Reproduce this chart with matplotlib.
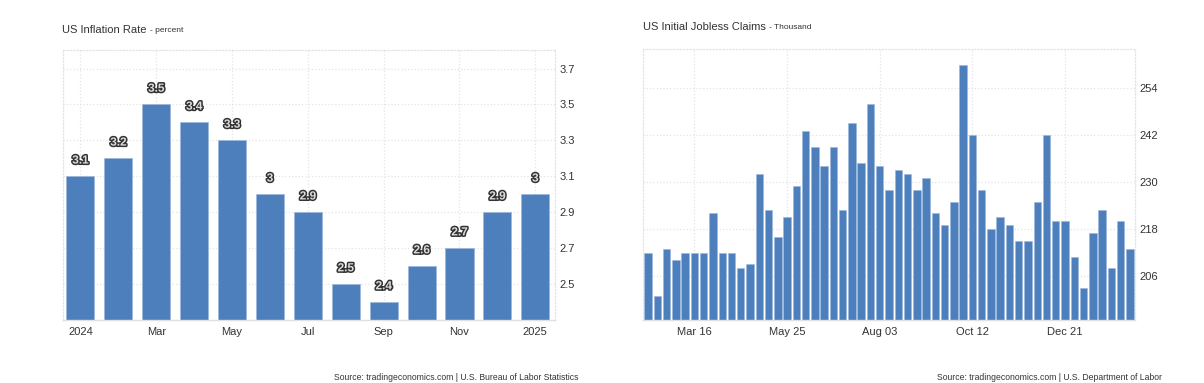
import matplotlib
matplotlib.use("Agg")
import matplotlib.pyplot as plt
import matplotlib.patheffects as pe

plt.rcParams['font.family'] = ['Liberation Sans', 'DejaVu Sans']

# Inflation data (monthly, Jan 2024 - Jan 2025)
infl_values = [3.1, 3.2, 3.5, 3.4, 3.3, 3.0, 2.9, 2.5, 2.4, 2.6, 2.7, 2.9, 3.0]
infl_ticks = [0, 2, 4, 6, 8, 10, 12]
infl_tick_labels = ['2024', 'Mar', 'May', 'Jul', 'Sep', 'Nov', '2025']
infl_yticks = [2.5, 2.7, 2.9, 3.1, 3.3, 3.5, 3.7]

# Weekly jobless claims (week ending Feb 10 2024 - Feb 8 2025), thousand
claims_values = [212, 201, 213, 210, 212, 212, 212, 222, 212, 212, 208, 209,
                 232, 223, 216, 221, 229, 243, 239, 234, 239, 223, 245, 235,
                 250, 234, 228, 233, 232, 228, 231, 222, 219, 225, 260, 242,
                 228, 218, 221, 219, 215, 215, 225, 242, 220, 220, 211, 203,
                 217, 223, 208, 220, 213]
claims_ticks = [5, 15, 25, 35, 45]
claims_tick_labels = ['Mar 16', 'May 25', 'Aug 03', 'Oct 12', 'Dec 21']
claims_yticks = [206, 218, 230, 242, 254]

W, H = 1204, 383
BAR = '#4d7fbc'
GRID = '#e4e4e4'
TXT = '#333333'

fig = plt.figure(figsize=(W / 100, H / 100), dpi=100)


def make_axes(left, right, top, bottom):
    return fig.add_axes([left / W, (H - bottom) / H, (right - left) / W, (bottom - top) / H])


def style(ax):
    ax.yaxis.tick_right()
    ax.tick_params(axis='both', length=0, labelsize=8, colors=TXT)
    ax.tick_params(axis='x', pad=5)
    ax.tick_params(axis='y', pad=3)
    ax.grid(True, color=GRID, linestyle=':', linewidth=0.9)
    ax.set_axisbelow(True)
    for s in ['left', 'top', 'right']:
        ax.spines[s].set_color(GRID)
        ax.spines[s].set_linestyle(':')
        ax.spines[s].set_linewidth(0.9)
    ax.spines['bottom'].set_color('#e0e0e0')
    ax.spines['bottom'].set_linewidth(1.0)


def title(x, y, main, sub):
    t = fig.text(x / W, 1 - y / H, main, fontsize=8, color=TXT, va='center')
    r = fig.canvas.get_renderer()
    x1 = t.get_window_extent(renderer=r).x1
    fig.text((x1 + 3) / W, 1 - (y + 0.5) / H, sub, fontsize=6, color=TXT, va='center')


# Left: inflation
ax1 = make_axes(63, 555, 50, 320)
x1 = range(len(infl_values))
ax1.bar(x1, infl_values, width=0.74, color=BAR, edgecolor='#9db8dd', linewidth=0.5)
ax1.set_xlim(-0.46, 12.52)
ax1.set_ylim(2.3, 3.803)
ax1.set_xticks(infl_ticks)
ax1.set_xticklabels(infl_tick_labels)
ax1.set_yticks(infl_yticks)
ax1.set_yticklabels([f'{v:.1f}' for v in infl_yticks])
style(ax1)
for i, v in zip(x1, infl_values):
    ax1.annotate(f'{v:g}', (i, v), xytext=(0, 7), textcoords='offset points',
                 ha='center', va='bottom', fontsize=8.5, fontweight='bold',
                 color='#dddddd',
                 path_effects=[pe.withStroke(linewidth=2.2, foreground='#333333')])

# Right: jobless claims
ax2 = make_axes(643, 1135, 49, 320)
x2 = range(len(claims_values))
ax2.bar(x2, claims_values, width=0.8, color=BAR, edgecolor='#9db8dd', linewidth=0.4)
ax2.set_xlim(-0.55, 52.55)
ax2.set_ylim(194.8, 264)
ax2.set_xticks(claims_ticks)
ax2.set_xticklabels(claims_tick_labels)
ax2.set_yticks(claims_yticks)
style(ax2)

# Titles
title(62, 30, 'US Inflation Rate', '- percent')
title(643, 27, 'US Initial Jobless Claims', '- Thousand')

# Sources
fig.text(578 / W, 1 - 378 / H, 'Source: tradingeconomics.com | U.S. Bureau of Labor Statistics',
         fontsize=6.2, color=TXT, ha='right', va='center')
fig.text(1162 / W, 1 - 378 / H, 'Source: tradingeconomics.com | U.S. Department of Labor',
         fontsize=6.2, color=TXT, ha='right', va='center')

fig.savefig('out.png', dpi=100, facecolor='white')
